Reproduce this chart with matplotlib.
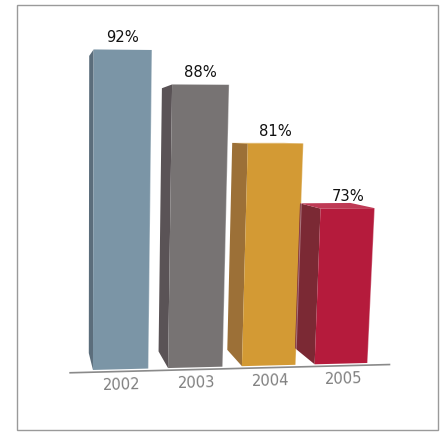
"""Perspective bar chart, 2002-2005 shares, drawn as fake 3-D boxes."""

import numpy as np
import matplotlib

matplotlib.use("Agg")
import matplotlib.pyplot as plt  # noqa: E402
from matplotlib import font_manager  # noqa: E402
from matplotlib.patches import Polygon, Rectangle  # noqa: E402

years = ["2002", "2003", "2004", "2005"]
shares = [92, 88, 81, 73]
front_colors = ["#7b95a6", "#777373", "#d39a34", "#b51b3c"]
side_colors = ["#5b6d7b", "#5a5356", "#9c7037", "#7b2934"]
top_colors = ["#8ea5b3", "#868282", "#dba84a", "#bf3a55"]

# camera of the fake 3-D view, in pixels
F = 641.0
CX, CY = 80.0, 200.0
YAW, PITCH = np.arctan(0.0699), np.arctan(0.101)
EYE = np.array([-56.2, 233.5, -618.2])

# world scale of the bars (value axis starts near 53)
FLOOR, UNIT = 53.2, 8.11
SPACING, WIDTH, DEPTH = 76.0, 56.0, 50.0


def project(x, y, z):
    px, py, pz = x - EYE[0], y - EYE[1], z - EYE[2]
    x1 = px * np.cos(YAW) - pz * np.sin(YAW)
    z1 = px * np.sin(YAW) + pz * np.cos(YAW)
    y2 = py * np.cos(PITCH) + z1 * np.sin(PITCH)
    z2 = -py * np.sin(PITCH) + z1 * np.cos(PITCH)
    return CX + F * x1 / z2, CY - F * y2 / z2


def face(points):
    return [project(*p) for p in points]


names = {f.name for f in font_manager.fontManager.ttflist}
family = "Liberation Sans Narrow" if "Liberation Sans Narrow" in names else "DejaVu Sans"
stretch = "normal" if family == "Liberation Sans Narrow" else "condensed"

fig = plt.figure(figsize=(4.46, 4.32), dpi=100)
ax = fig.add_axes([0, 0, 1, 1])
ax.set_xlim(0, 446)
ax.set_ylim(432, 0)
ax.axis("off")

# outer frame
ax.add_patch(Rectangle((17, 5), 421, 425, fill=False, edgecolor="#9a9a9a", lw=1.0))

# floor line
(u0, v0), (u1, v1) = project(-24, 0, -6), project(305, 0, -6)
ax.plot([u0, u1], [v0, v1], color="#8a8a8a", lw=1.2, solid_capstyle="butt")
angle = np.degrees(np.arctan2(v0 - v1, u1 - u0))

for i, (yr, val) in enumerate(zip(years, shares)):
    x0 = i * SPACING
    x1 = x0 + WIDTH
    h = (val - FLOOR) * UNIT

    side = face([(x0, 0, 0), (x0, h, 0), (x0, h, DEPTH), (x0, 0, DEPTH)])
    ax.add_patch(Polygon(side, closed=True, facecolor=side_colors[i], edgecolor="none"))
    if h < EYE[1]:
        top = face([(x0, h, 0), (x1, h, 0), (x1, h, DEPTH), (x0, h, DEPTH)])
        ax.add_patch(Polygon(top, closed=True, facecolor=top_colors[i], edgecolor="none"))
    front = face([(x0, 0, 0), (x1, 0, 0), (x1, h, 0), (x0, h, 0)])
    ax.add_patch(Polygon(front, closed=True, facecolor=front_colors[i], edgecolor="none"))
    # thin light rim on the front's right edge
    ax.plot([front[1][0], front[2][0]], [front[1][1], front[2][1]],
            color="white", alpha=0.35, lw=0.8)

    tu, tv = project(x0 + WIDTH / 2, h, 0)
    ax.text(tu, tv - 12, f"{val}%", ha="center", va="center", fontsize=11.8,
            family=family, stretch=stretch, color="#111111")

    lu, lv = project(x0 + WIDTH / 2, -14, -6)
    ax.text(lu, lv, yr, ha="center", va="center", fontsize=11.8, family=family,
            stretch=stretch, color="#7f7f7f", rotation=angle, rotation_mode="anchor")

fig.savefig("out.png", dpi=100)
plt.close(fig)
